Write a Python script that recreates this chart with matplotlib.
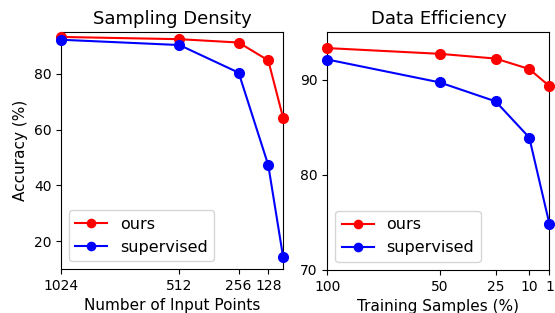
import matplotlib
matplotlib.use('Agg')
import matplotlib.pyplot as plt

# sampling density
points = [1024, 512, 256, 128, 64]
density_ours = [93.2, 92.4, 91.2, 84.8, 64.3]
density_sup = [92.2, 90.3, 80.4, 47.3, 14.5]
points_ticks = [1024, 512, 256, 128]

# data efficiency
samples = [100, 50, 25, 10, 1]
eff_ours = [93.3, 92.7, 92.2, 91.1, 89.3]
eff_sup = [92.1, 89.7, 87.7, 83.9, 74.8]
samples_ticks = [100, 50, 25, 10, 1]

fig = plt.figure(figsize=(5.55, 3.13), dpi=100)
ax1 = fig.add_axes([0.110, 0.140, 0.400, 0.758])
ax2 = fig.add_axes([0.590, 0.138, 0.400, 0.760])

for ax, x, ours, sup in [(ax1, points, density_ours, density_sup),
                         (ax2, samples, eff_ours, eff_sup)]:
    ax.plot(x, ours, 'o-', color='r', label='ours', lw=1.5, ms=7, clip_on=False, zorder=3)
    ax.plot(x, sup, 'o-', color='b', label='supervised', lw=1.5, ms=7, clip_on=False, zorder=3)
    ax.legend(loc='lower left', fontsize=11.5, markerscale=0.85)
    ax.tick_params(labelsize=10)

ax1.set_xlim(1024, 64)
ax1.set_ylim(10, 95)
ax1.set_xticks(points_ticks)
ax1.set_yticks([20, 40, 60, 80])
ax1.set_title('Sampling Density', fontsize=13)
ax1.set_xlabel('Number of Input Points', fontsize=11)
ax1.set_ylabel('Accuracy (%)', fontsize=11)

ax2.set_xlim(100, 1)
ax2.set_ylim(70, 95)
ax2.set_xticks(samples_ticks)
ax2.set_yticks([70, 80, 90])
ax2.set_title('Data Efficiency', fontsize=13)
ax2.set_xlabel('Training Samples (%)', fontsize=11)

fig.savefig('out.png', dpi=100)
